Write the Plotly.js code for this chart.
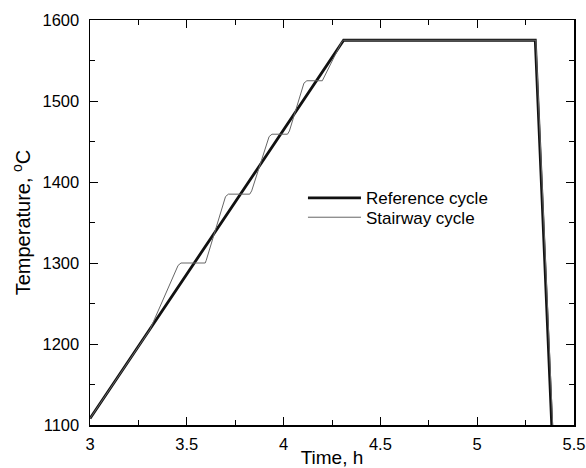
<!DOCTYPE html>
<html>
<head>
<meta charset="utf-8">
<script src="https://cdn.plot.ly/plotly-3.0.1.min.js"></script>
<style>html,body{margin:0;padding:0;background:#fff;}#chart{width:586px;height:468px;}</style>
</head>
<body>
<div id="chart"></div>
<script>
// Reference cycle (time in h, temperature in °C)
const refTime = [3.0, 4.31, 5.30, 5.385];
const refTemp = [1108, 1575, 1575, 1100];

// Stairway cycle
const stairTime = [3.0, 3.31, 3.455, 3.47, 3.595, 3.60, 3.70, 3.715, 3.825, 3.835, 3.925, 3.94, 4.02, 4.03, 4.105, 4.12, 4.20, 4.21, 4.30, 4.31, 5.303, 5.39];
const stairTemp = [1108, 1218, 1297, 1300, 1300, 1303, 1382, 1385, 1385, 1389, 1456, 1459, 1459, 1463, 1522, 1525, 1525, 1530, 1573, 1575, 1575, 1100];

const xTicks = [3, 3.5, 4, 4.5, 5, 5.5];
const xTickText = ['3', '3.5', '4', '4.5', '5', '5.5'];
const yTicks = [1100, 1200, 1300, 1400, 1500, 1600];

const font = 'Arial, "Liberation Sans", sans-serif';

const traces = [
  {x: refTime, y: refTemp, mode: 'lines', name: 'Reference cycle', legend: 'legend',
   line: {color: '#111111', width: 2.8}},
  {x: stairTime, y: stairTemp, mode: 'lines', name: 'Stairway cycle', legend: 'legend2',
   line: {color: '#666666', width: 1}}
];

const axisCommon = {
  showline: true, linecolor: '#000', linewidth: 1.5, mirror: 'allticks',
  ticks: 'inside', ticklen: 8, tickwidth: 1, tickcolor: '#000',
  showgrid: false, zeroline: false,
  tickfont: {family: font, size: 16.5, color: '#000'}
};

const legendCommon = {
  xanchor: 'left', yanchor: 'middle', bgcolor: 'rgba(0,0,0,0)',
  font: {family: font, size: 17, color: '#000'}, itemwidth: 53
};

const layout = {
  width: 586, height: 468,
  margin: {l: 90, r: 12, t: 20, b: 43},
  paper_bgcolor: '#fff', plot_bgcolor: '#fff',
  showlegend: true,
  legend: Object.assign({}, legendCommon, {x: 0.44, y: 0.5598}),
  legend2: Object.assign({}, legendCommon, {x: 0.44, y: 0.5119}),
  xaxis: Object.assign({}, axisCommon, {
    range: [3, 5.5], tickvals: xTicks, ticktext: xTickText, ticklabelstandoff: 4,
    minor: {dtick: 0.25, ticks: 'inside', ticklen: 5, tickcolor: '#000'},
    title: {text: 'Time, h', font: {family: font, size: 19, color: '#000'}, standoff: 6}
  }),
  yaxis: Object.assign({}, axisCommon, {
    range: [1100, 1600], tickvals: yTicks, ticklabelstandoff: 6,
    minor: {dtick: 50, ticks: 'inside', ticklen: 5, tickcolor: '#000'},
    title: {text: 'Temperature, <sup>o</sup>C', font: {family: font, size: 20, color: '#000'}, standoff: 6}
  })
};

Plotly.newPlot('chart', traces, layout, {displayModeBar: false, staticPlot: true});
</script>
</body>
</html>
